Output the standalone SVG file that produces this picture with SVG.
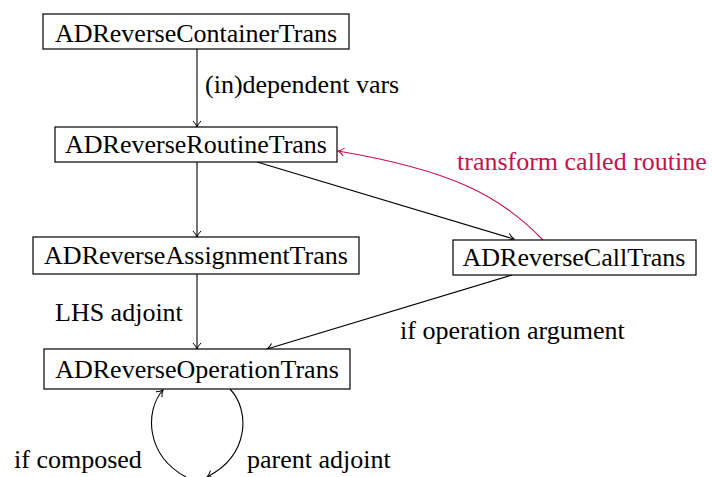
<svg xmlns="http://www.w3.org/2000/svg" width="712" height="477" viewBox="0 0 712 477">
<style>
.box{fill:#fff;stroke:#000;stroke-width:1.2}
.t{font-family:"Liberation Serif","Times New Roman",serif;font-size:26px;fill:#000}
.c{text-anchor:middle}
.e{fill:none;stroke:#000;stroke-width:1.1}
.r{fill:none;stroke:#c8104f;stroke-width:1.1}
</style>
<defs>
<marker id="a" markerWidth="10" markerHeight="10" refX="8" refY="5" orient="auto" markerUnits="userSpaceOnUse">
<path d="M2,1 Q5,4 8,5 Q5,6 2,9" fill="none" stroke="#000" stroke-width="1"/>
</marker>
<marker id="ar" markerWidth="10" markerHeight="10" refX="8" refY="5" orient="auto" markerUnits="userSpaceOnUse">
<path d="M2,1 Q5,4 8,5 Q5,6 2,9" fill="none" stroke="#c8104f" stroke-width="1"/>
</marker>
</defs>
<rect width="712" height="477" fill="#fff"/>
<g id="edges">
<line class="e" x1="197" y1="49" x2="197" y2="127" marker-end="url(#a)"/>
<line class="e" x1="197" y1="162" x2="197" y2="237" marker-end="url(#a)"/>
<line class="e" x1="197" y1="274" x2="197" y2="349" marker-end="url(#a)"/>
<line class="e" x1="257" y1="162" x2="514" y2="239" marker-end="url(#a)"/>
<line class="e" x1="512" y1="275" x2="267" y2="349" marker-end="url(#a)"/>
<path class="r" d="M543,240 C500,195 450,170 338,151" marker-end="url(#ar)"/>
<path class="e" d="M230,389 C250,410 250,455 207,477" marker-end="url(#a)"/>
<path class="e" d="M186,477 C145,455 145,410 163,390" marker-end="url(#a)"/>
<text class="t" x="205" y="93">(in)dependent vars</text>
<text class="t" x="55" y="321">LHS adjoint</text>
<text class="t" x="400" y="339">if operation argument</text>
<text class="t" x="457" y="170" style="fill:#c8104f">transform called routine</text>
<text class="t" x="14" y="468">if composed</text>
<text class="t" x="247" y="468">parent adjoint</text>
</g>
<g id="n1"><rect class="box" x="43" y="14" width="306" height="35"/><text class="t c" x="196" y="42">ADReverseContainerTrans</text></g>
<g id="n2"><rect class="box" x="55" y="127" width="282" height="35"/><text class="t c" x="196" y="153">ADReverseRoutineTrans</text></g>
<g id="n3"><rect class="box" x="33" y="237" width="326" height="37"/><text class="t c" x="196" y="264">ADReverseAssignmentTrans</text></g>
<g id="n4"><rect class="box" x="453" y="240" width="243" height="35"/><text class="t c" x="574" y="266">ADReverseCallTrans</text></g>
<g id="n5"><rect class="box" x="44" y="349" width="306" height="40"/><text class="t c" x="197" y="378">ADReverseOperationTrans</text></g>
</svg>
